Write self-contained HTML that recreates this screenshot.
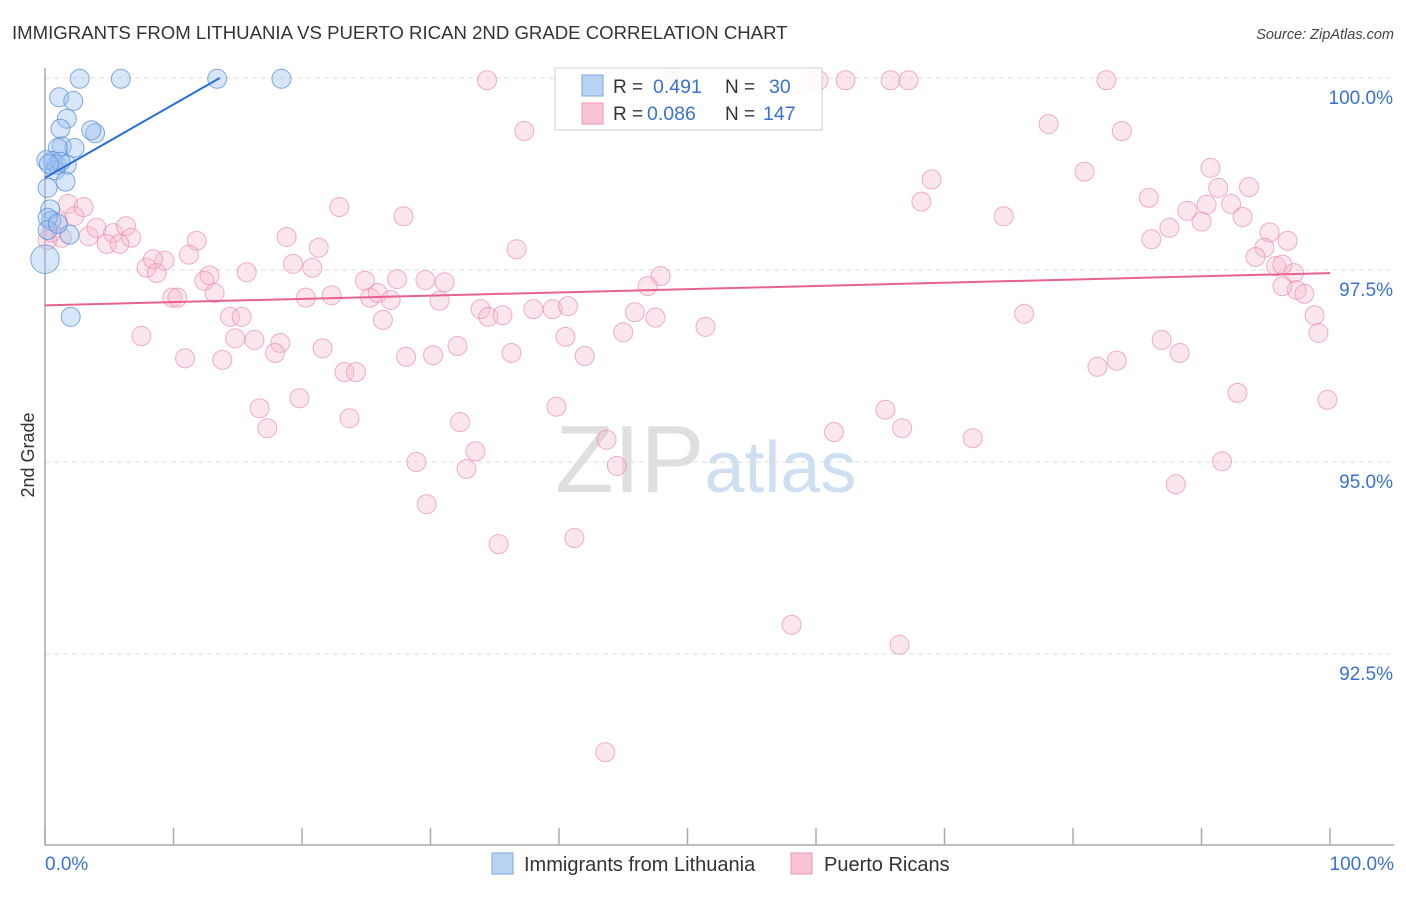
<!DOCTYPE html>
<html><head><meta charset="utf-8"><style>
body{margin:0;background:#fff;font-family:"Liberation Sans",sans-serif}
svg text{font-family:"Liberation Sans",sans-serif}
</style></head><body>
<svg id="chart" width="1406" height="892" xmlns="http://www.w3.org/2000/svg">
<text x="12" y="39" font-size="18.6" fill="#333">IMMIGRANTS FROM LITHUANIA VS PUERTO RICAN 2ND GRADE CORRELATION CHART</text>
<text x="1394" y="39" font-size="14.5" fill="#444" font-style="italic" text-anchor="end">Source: ZipAtlas.com</text>
<text x="555" y="492" font-size="96" fill="#d8d8d8" font-family="Liberation Serif" opacity="0.8">ZIP<tspan fill="#c4d8f0" font-family="Liberation Sans" font-size="72">atlas</tspan></text>
<g id="grid"></g>
<g id="axes"></g>
<g id="pink"></g>
<g id="blue"></g>
<g id="trends"></g>
<text transform="translate(34,455) rotate(-90)" font-size="18" fill="#333" text-anchor="middle">2nd Grade</text>
<g>
<rect x="555" y="68" width="267" height="62" fill="#fff" fill-opacity="0.9" stroke="#ccc"/>
<rect x="582" y="75" width="21" height="21" fill="#b8d2f4" stroke="#7aa6e2"/>
<rect x="582" y="103" width="21" height="21" fill="#f9c4d3" stroke="#ec9ab4"/>
<text x="613" y="93" font-size="19" fill="#333">R = </text><text x="653" y="93" font-size="19.5" fill="#3a72d2">0.491</text>
<text x="725" y="93" font-size="19" fill="#333">N = </text><text x="769" y="93" font-size="19.5" fill="#3a72d2">30</text>
<text x="613" y="120" font-size="19" fill="#333">R = </text><text x="647" y="120" font-size="19.5" fill="#3a72d2">0.086</text>
<text x="725" y="120" font-size="19" fill="#333">N = </text><text x="763" y="120" font-size="19.5" fill="#3a72d2">147</text>
</g>
<g>
<rect x="492" y="853" width="21" height="21" fill="#b8d2f4" stroke="#7aa6e2"/>
<text x="524" y="871" font-size="20" fill="#333">Immigrants from Lithuania</text>
<rect x="791" y="853" width="21" height="21" fill="#f9c4d3" stroke="#ec9ab4"/>
<text x="824" y="871" font-size="20" fill="#333">Puerto Ricans</text>
</g>
</svg>
<script>
const yTicks=[100,97.5,95,92.5];
const yTickLabels=["100.0%","97.5%","95.0%","92.5%"];
const xTickCount=10;
const xLabels=["0.0%","100.0%"];
const blueX=[2.7,5.9,13.4,18.4,1.1,2.2,1.7,1.2,3.9,3.6,1.3,2.3,1.0,0.6,0.9,1.7,0.8,1.6,0.2,0.4,0.5,0.2,1.9,0,2.0,0.1,1.2,0.2,1.0,0.3];
const blueY=[99.99,99.99,99.99,99.99,99.75,99.70,99.47,99.34,99.28,99.32,99.11,99.09,99.09,98.92,98.87,98.87,98.80,98.65,98.57,98.29,98.14,98.18,97.96,97.64,96.89,98.93,98.91,98.02,98.10,98.88];
const blueR=[1,1,1,1,1,1,1,1,1,1,1,1,1,1,1,1,1,1,1,1,1,1,1,1.5,1,1,1,1,1,1];
const pinkX=[34.4,48.6,49.1,59.5,60.2,62.3,65.8,67.2,82.6,37.3,78.1,83.8,80.9,90.7,69.0,91.3,93.7,68.2,22.9,27.9,74.6,85.9,88.9,90.4,92.3,93.2,87.5,90.0,1.8,2.3,1.0,0.2,1.3,3.4,4.0,5.3,6.3,6.7,4.8,5.8,11.8,18.8,21.3,36.7,86.1,95.3,96.7,94.9,94.2,95.8,96.3,97.2,97.4,98.0,98.8,99.1,99.8,7.9,9.3,8.4,8.7,11.2,12.8,12.4,15.7,19.3,20.8,24.9,27.4,29.6,31.1,47.9,46.9,96.3,9.9,10.3,13.2,20.3,22.3,25.3,25.9,26.9,30.7,33.9,34.5,35.6,38.0,39.5,40.7,45.9,47.5,51.4,76.2,7.5,14.4,15.3,14.8,16.3,18.3,21.6,17.9,26.3,28.1,30.2,32.1,36.3,40.5,42.0,45.0,10.9,13.8,23.3,24.2,81.9,83.4,86.9,88.3,16.7,19.8,23.7,17.3,32.3,39.8,65.4,92.8,61.4,66.7,72.2,43.7,33.5,28.9,32.8,44.5,91.6,88.0,29.7,35.3,41.2,58.1,66.5,43.6,3.0,0.5];
const pinkY=[99.97,99.97,99.97,99.97,99.97,99.97,99.97,99.97,99.97,99.31,99.40,99.31,98.78,98.83,98.68,98.57,98.58,98.39,98.32,98.20,98.20,98.44,98.27,98.35,98.36,98.19,98.05,98.13,98.36,98.20,98.13,97.89,97.92,97.94,98.05,97.98,98.07,97.92,97.84,97.84,97.88,97.93,97.79,97.77,97.90,97.99,97.88,97.79,97.67,97.55,97.57,97.46,97.24,97.19,96.91,96.68,95.81,97.53,97.62,97.64,97.46,97.70,97.43,97.36,97.47,97.58,97.53,97.36,97.38,97.37,97.34,97.42,97.29,97.29,97.14,97.14,97.20,97.14,97.17,97.14,97.20,97.11,97.10,96.99,96.89,96.91,96.99,96.99,97.03,96.95,96.88,96.76,96.93,96.64,96.89,96.89,96.61,96.59,96.55,96.48,96.42,96.85,96.37,96.39,96.51,96.42,96.63,96.38,96.69,96.35,96.33,96.17,96.17,96.24,96.32,96.59,96.42,95.70,95.83,95.57,95.44,95.52,95.72,95.68,95.90,95.39,95.44,95.31,95.29,95.14,95.00,94.91,94.95,95.01,94.71,94.45,93.93,94.01,92.88,92.62,91.22,98.32,97.99];
const blueTrendX=[0,13.6];
const blueTrendY=[98.70,100];
const pinkTrendX=[0,100];
const pinkTrendY=[97.04,97.46];
const NS="http://www.w3.org/2000/svg";
const X0=45,X1=1330,YTOP=78,PXPER=76.8;
function sx(v){return X0+(X1-X0)*v/100;}
function sy(v){return YTOP+(100-v)*PXPER;}
function mk(tag,attrs,parent){const e=document.createElementNS(NS,tag);for(const k in attrs)e.setAttribute(k,attrs[k]);parent.appendChild(e);return e;}
const grid=document.getElementById('grid');
yTicks.forEach((t,i)=>{
 const l=mk('line',{x1:X0,x2:1394,y1:sy(t),y2:sy(t),stroke:'#ddd','stroke-dasharray':'5,4'},grid);
 
 
 const tx=mk('text',{x:1393,y:sy(t)+26,'font-size':19,fill:'#3a72d2','text-anchor':'end'},grid);
 tx.textContent=yTickLabels[i];
 
 
});
const axes=document.getElementById('axes');
mk('line',{x1:X0,x2:X0,y1:68,y2:845,stroke:'#aaa','stroke-width':1.5},axes);
mk('line',{x1:X0,x2:1394,y1:845,y2:845,stroke:'#aaa','stroke-width':1.5},axes);
for(let i=0;i<=xTickCount;i++){
 const x=sx(i*100/xTickCount);
 const t=mk('line',{x1:x,x2:x,y1:828,y2:845,stroke:'#aaa','stroke-width':1.5},axes);
 
 
}
const xl0=mk('text',{x:X0,y:870,'font-size':19,fill:'#3a72d2'},axes);xl0.textContent=xLabels[0];


const xl1=mk('text',{x:1394,y:870,'font-size':19,fill:'#3a72d2','text-anchor':'end'},axes);xl1.textContent=xLabels[1];


const pg=document.getElementById('pink');
pinkX.forEach((v,i)=>{
 const c=mk('circle',{cx:sx(v),cy:sy(pinkY[i]),r:9.5,fill:'#f7b8cb','fill-opacity':0.35,stroke:'#e890ac','stroke-opacity':0.7},pg);
 
 
});
const bg=document.getElementById('blue');
blueX.forEach((v,i)=>{
 const c=mk('circle',{cx:sx(v),cy:sy(blueY[i]),r:9.5*blueR[i],fill:'#9cc0ee','fill-opacity':0.4,stroke:'#5b8fd8','stroke-opacity':0.75},bg);
 
 
});
const tg=document.getElementById('trends');
const bt=mk('line',{x1:sx(blueTrendX[0]),y1:sy(blueTrendY[0]),x2:sx(blueTrendX[1]),y2:sy(blueTrendY[1]),stroke:'#2a6fd6','stroke-width':2},tg);


const pt=mk('line',{x1:sx(pinkTrendX[0]),y1:sy(pinkTrendY[0]),x2:sx(pinkTrendX[1]),y2:sy(pinkTrendY[1]),stroke:'#e8628e','stroke-width':2},tg);


</script>
</body></html>
